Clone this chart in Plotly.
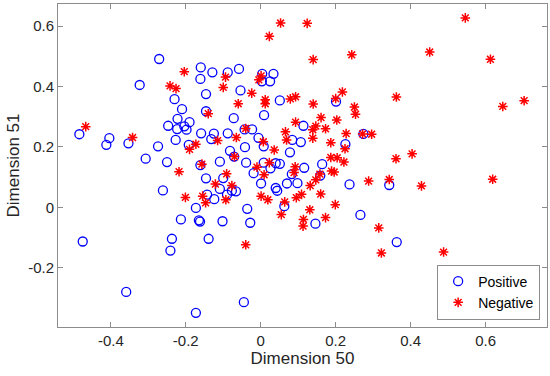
import plotly.graph_objects as go

pos_x = [-0.484, -0.412, -0.404, -0.353, -0.323, -0.307, -0.274, -0.271, -0.250, -0.247,
         -0.230, -0.222, -0.223, -0.227, -0.210, -0.204, -0.198, -0.190, -0.192, -0.160,
         -0.161, -0.159, -0.161, -0.146, -0.146, -0.146, -0.129, -0.132, -0.125, -0.109,
         -0.100, -0.088, -0.088, -0.082, -0.072, -0.071, -0.058, -0.054, -0.042, -0.039,
         -0.043, -0.023, -0.019, -0.006, 0.001, 0.004, 0.003, 0.009, 0.008, 0.008,
         0.026, 0.034, 0.025, 0.051, 0.201, 0.114, 0.084, 0.107, 0.226, 0.274,
         0.078, 0.051, 0.040, 0.116, 0.164, 0.083, 0.159, 0.070, 0.098, 0.237,
         0.343, -0.261, -0.173, -0.143, -0.124, -0.109, -0.090, -0.077, -0.066, 0.040,
         0.044, 0.063, -0.213, -0.165, -0.162, -0.102, -0.036, -0.028, -0.237, -0.241,
         -0.139, -0.475, -0.359, -0.045, -0.173, 0.146, 0.266, 0.363]
pos_y = [0.242, 0.207, 0.229, 0.212, 0.405, 0.161, 0.202, 0.491, 0.150, 0.270,
         0.358, 0.293, 0.259, 0.223, 0.325, 0.268, 0.257, 0.282, 0.207, 0.463,
         0.425, 0.245, 0.140, 0.375, 0.318, 0.096, 0.447, 0.226, 0.244, 0.151,
         0.097, 0.447, 0.245, 0.187, 0.295, 0.168, 0.458, 0.387, 0.199, 0.148,
         0.258, 0.258, 0.113, 0.230, 0.079, 0.442, 0.417, 0.305, 0.202, 0.148,
         0.129, 0.442, 0.417, 0.354, 0.350, 0.270, 0.223, 0.216, 0.209, 0.243,
         0.182, 0.144, 0.146, 0.131, 0.143, 0.110, 0.105, 0.079, 0.080, 0.076,
         0.074, 0.056, -0.002, 0.042, 0.027, 0.061, 0.042, 0.055, 0.053, 0.064,
         0.055, 0.004, -0.040, -0.043, -0.047, -0.046, -0.005, -0.051, -0.104, -0.143,
         -0.104, -0.113, -0.280, -0.314, -0.349, -0.054, -0.025, -0.115]

neg_x = [-0.467, -0.342, -0.242, -0.226, -0.218, -0.204, -0.190, -0.173, -0.157, -0.140,
         -0.121, -0.115, -0.100, -0.094, -0.091, -0.077, -0.070, -0.065, -0.060, -0.040,
         -0.024, -0.010, -0.005, 0.001, 0.007, 0.009, 0.012, 0.012, 0.023, 0.023,
         0.036, 0.053, 0.124, 0.546, 0.140, 0.243, 0.451, 0.613, 0.218, 0.079,
         0.093, 0.200, 0.362, 0.703, 0.646, 0.140, 0.250, 0.253, 0.161, 0.203,
         0.093, 0.147, 0.139, 0.173, 0.066, 0.069, 0.139, 0.228, 0.296, 0.272,
         0.187, 0.225, 0.187, 0.204, 0.222, 0.404, 0.361, 0.092, 0.089, 0.189,
         0.196, 0.158, 0.147, 0.132, 0.288, 0.343, 0.429, 0.619, -0.201, -0.155,
         -0.147, -0.093, -0.040, 0.001, 0.019, 0.064, 0.055, 0.095, 0.109, 0.160,
         0.199, 0.131, 0.114, 0.113, 0.173, 0.315, 0.322, 0.488]
neg_y = [0.267, 0.231, 0.402, 0.393, 0.118, 0.449, 0.192, 0.209, 0.143, 0.310,
         0.077, 0.221, 0.397, 0.431, 0.111, 0.072, 0.168, 0.231, 0.343, 0.261,
         0.378, 0.133, 0.422, 0.435, 0.217, 0.108, 0.356, 0.343, 0.566, 0.148,
         0.190, 0.610, 0.609, 0.627, 0.489, 0.505, 0.514, 0.490, 0.382, 0.359,
         0.366, 0.360, 0.365, 0.353, 0.334, 0.342, 0.332, 0.308, 0.297, 0.289,
         0.282, 0.269, 0.257, 0.260, 0.250, 0.223, 0.229, 0.244, 0.242, 0.243,
         0.214, 0.194, 0.165, 0.164, 0.150, 0.177, 0.161, 0.134, 0.115, 0.120,
         0.117, 0.110, 0.091, 0.072, 0.087, 0.092, 0.071, 0.093, 0.033, 0.037,
         0.015, 0.025, -0.124, 0.037, 0.025, 0.018, -0.024, 0.032, 0.043, 0.044,
         0.009, -0.008, -0.040, -0.062, -0.034, -0.068, -0.151, -0.148]

x_ticks = [-0.4, -0.2, 0, 0.2, 0.4, 0.6]
x_labels = ["-0.4", "-0.2", "0", "0.2", "0.4", "0.6"]
y_ticks = [-0.2, 0, 0.2, 0.4, 0.6]
y_labels = ["-0.2", "0", "0.2", "0.4", "0.6"]

FONT = "Liberation Sans, Arial, Helvetica, sans-serif"
AX = "#8c8c8c"
TXT = "#262626"

fig = go.Figure()
fig.add_trace(go.Scatter(
    x=pos_x, y=pos_y, mode="markers", name="Positive",
    marker=dict(symbol="circle-open", size=9, color="#0000ff",
                line=dict(width=1.3, color="#0000ff")),
))
fig.add_trace(go.Scatter(
    x=neg_x, y=neg_y, mode="markers", name="Negative",
    marker=dict(symbol="asterisk-open", size=8, color="#ff0000",
                line=dict(width=1.5, color="#ff0000")),
))

axis_common = dict(
    showline=True, mirror="ticks", linecolor=AX, linewidth=1,
    ticks="inside", ticklen=5, tickcolor=AX, tickwidth=1,
    showgrid=False, zeroline=False, automargin=False,
    tickfont=dict(family=FONT, size=15, color=TXT),
)

fig.update_layout(
    width=550, height=376,
    margin=dict(l=58, r=3, t=4, b=49),
    paper_bgcolor="white", plot_bgcolor="white",
    font=dict(family=FONT, size=14, color=TXT),
    xaxis=dict(range=[-0.541, 0.764], tickvals=x_ticks, ticktext=x_labels,
               title=dict(text="Dimension 50", font=dict(family=FONT, size=17, color=TXT), standoff=0),
               **axis_common),
    yaxis=dict(range=[-0.396, 0.673], tickvals=y_ticks, ticktext=y_labels,
               title=dict(text="Dimension 51", font=dict(family=FONT, size=17, color=TXT), standoff=4),
               **axis_common),
    legend=dict(x=0.986, y=0.023, xanchor="right", yanchor="bottom",
                bordercolor=AX, borderwidth=1, bgcolor="white",
                font=dict(family=FONT, size=14, color="#000000"),
                tracegroupgap=0, itemwidth=30),
    showlegend=True,
)

fig.write_html("out.html", config={"displayModeBar": False},
               post_script="document.body.style.margin='0px';")
